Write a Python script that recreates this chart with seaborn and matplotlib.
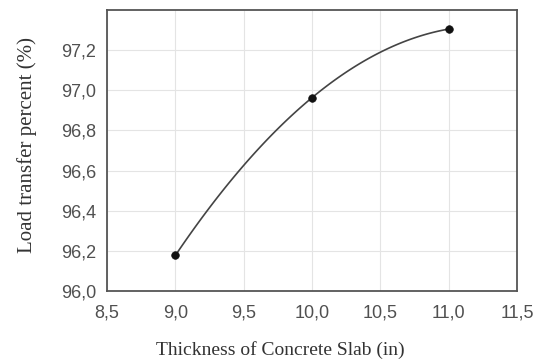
import pandas as pd
import matplotlib.pyplot as plt
import matplotlib.ticker as mticker
import seaborn as sns

# values
thickness = [9.0, 10.0, 11.0]
load_transfer = [96.177, 96.963, 97.305]

x_ticks = [8.5, 9.0, 9.5, 10.0, 10.5, 11.0, 11.5]
y_ticks = [96.0, 96.2, 96.4, 96.6, 96.8, 97.0, 97.2]

data = pd.DataFrame({'thickness': thickness, 'load_transfer': load_transfer})

sns.set_style('whitegrid')
plt.rcParams['font.family'] = ['Liberation Sans', 'DejaVu Sans']

fig = plt.figure(figsize=(5.39, 3.64), dpi=100)
ax = fig.add_axes([0.1985, 0.2005, 0.7605, 0.772])

# smooth line through the points (2nd order fit passes through all three)
sns.regplot(data=data, x='thickness', y='load_transfer', order=2, ci=None,
            scatter=False, line_kws={'color': '#444444', 'linewidth': 1.2}, ax=ax)
sns.scatterplot(data=data, x='thickness', y='load_transfer', color='#111111',
                marker='o', s=30, edgecolor='#111111', linewidth=0.5, zorder=3, ax=ax)

ax.set_xlim(8.5, 11.5)
ax.set_ylim(96.0, 97.4)
ax.set_xticks(x_ticks)
ax.set_yticks(y_ticks)
comma = mticker.FuncFormatter(lambda v, p: f'{v:.1f}'.replace('.', ','))
ax.xaxis.set_major_formatter(comma)
ax.yaxis.set_major_formatter(comma)

ax.grid(True, color='#e4e4e4', linewidth=0.8)
for side in ['left', 'right', 'top', 'bottom']:
    ax.spines[side].set_color('#555555')
    ax.spines[side].set_linewidth(1.3)
ax.tick_params(axis='both', which='major', direction='out', length=4, width=1.2,
               color='#555555', labelsize=13, labelcolor='#505050', pad=4)
ax.tick_params(axis='x', pad=6)

ax.set_xlabel('Thickness of Concrete Slab (in)', family='Liberation Serif',
              fontsize=14, color='#333333', labelpad=14, x=0.424)
ax.set_ylabel('Load transfer percent (%)', family='Liberation Serif',
              fontsize=15, color='#333333', labelpad=17, y=0.52)

fig.savefig('out.png', dpi=100)
plt.close(fig)
